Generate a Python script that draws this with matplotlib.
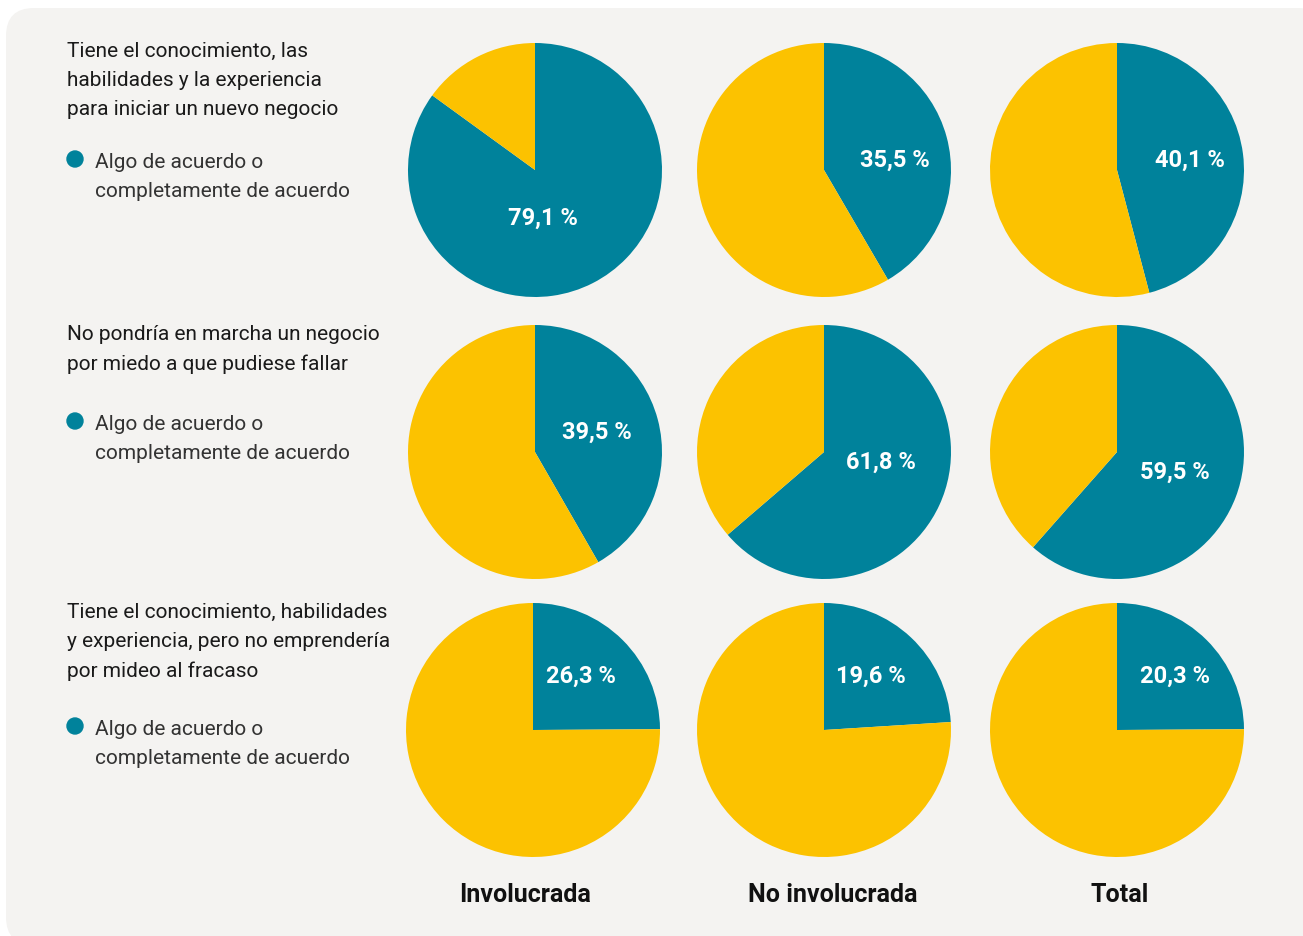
import matplotlib
matplotlib.use("Agg")
import matplotlib.pyplot as plt
from matplotlib.patches import FancyBboxPatch, Circle
from matplotlib import font_manager

# ---- data ----
columns = ["Involucrada", "No involucrada", "Total"]
questions = [
    "Tiene el conocimiento, las\nhabilidades y la experiencia\npara iniciar un nuevo negocio",
    "No pondría en marcha un negocio\npor miedo a que pudiese fallar",
    "Tiene el conocimiento, habilidades\ny experiencia, pero no emprendería\npor mideo al fracaso",
]
legend_label = "Algo de acuerdo o\ncompletamente de acuerdo"
# printed values (% agree)
agree_labels = [
    ["79,1 %", "35,5 %", "40,1 %"],
    ["39,5 %", "61,8 %", "59,5 %"],
    ["26,3 %", "19,6 %", "20,3 %"],
]
# teal share of each pie as drawn in the picture
agree_share = [
    [85.0, 41.6, 45.9],
    [41.7, 63.7, 61.5],
    [24.9, 24.0, 24.9],
]

TEAL = "#00829B"
YELLOW = "#FCC200"
BG = "#F4F3F1"

avail = {f.name for f in font_manager.fontManager.ttflist}
narrow = "Liberation Sans Narrow" if "Liberation Sans Narrow" in avail else "Roboto"

W, H = 1303, 936
fig = plt.figure(figsize=(W / 100, H / 100), dpi=100)
fig.patch.set_facecolor("white")
ax = fig.add_axes([0, 0, 1, 1])
ax.set_xlim(0, W)
ax.set_ylim(0, H)
ax.axis("off")


def Y(py):
    return H - py


bg = FancyBboxPatch((6, Y(945)), 1320, 945 - 8,
                    boxstyle="round,pad=0,rounding_size=28",
                    facecolor=BG, edgecolor="none", zorder=0)
ax.add_patch(bg)

col_x = [535, 824, 1117]
row_y = [170, 452, 730]
R = 127
label_pos = [
    [(543, 218), (895, 160), (1190, 160)],
    [(597, 432), (881, 462), (1175, 472)],
    [(581, 676), (871, 676), (1175, 676)],
]

for i in range(3):
    for j in range(3):
        cx = col_x[j] - (2 if i == 2 and j == 0 else 0)
        share = agree_share[i][j]
        ax.pie([share, 100 - share], colors=[TEAL, YELLOW], startangle=90,
               counterclock=False, center=(cx, Y(row_y[i])), radius=R,
               wedgeprops=dict(linewidth=0), frame=True)
        lx, ly = label_pos[i][j]
        ax.text(lx, Y(ly), agree_labels[i][j], color="white", fontsize=17,
                fontweight="bold", family=narrow, ha="center", va="center",
                zorder=5)

ax.set_xlim(0, W)
ax.set_ylim(0, H)
ax.set_aspect("auto")
ax.axis("off")

q_top = [50, 333, 611]
bullet_y = [159, 421, 726]
for i in range(3):
    ax.text(67, Y(q_top[i] - 8), questions[i], fontsize=15, color="#1a1a1a",
            family=narrow, ha="left", va="top", linespacing=1.68)
    ax.add_patch(Circle((75, Y(bullet_y[i])), 8, color=TEAL, zorder=3))
    ax.text(95, Y(bullet_y[i] - 6), legend_label, fontsize=15, color="#333333",
            family=narrow, ha="left", va="top", linespacing=1.68)

col_label_x = [525, 833, 1120]
for j in range(3):
    ax.text(col_label_x[j], Y(895), columns[j], fontsize=18, fontweight="bold",
            color="#111111", family=narrow, ha="center", va="center")

fig.savefig("out.png", dpi=100, facecolor=fig.get_facecolor())
